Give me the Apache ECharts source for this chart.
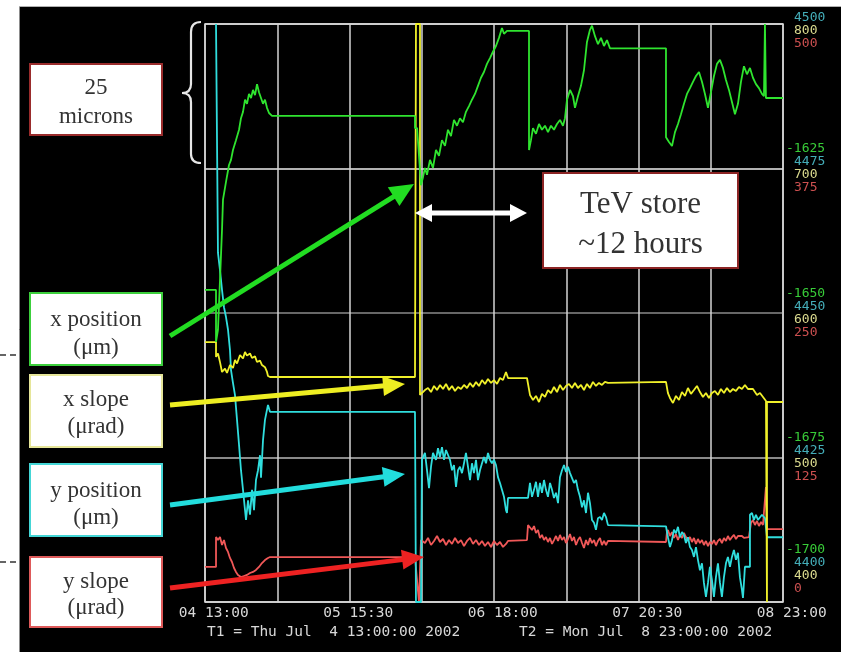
<!DOCTYPE html>
<html>
<head>
<meta charset="utf-8">
<title>Tevatron orbit – beam position and slope</title>
<script src="https://cdn.jsdelivr.net/npm/echarts@6/dist/echarts.min.js"></script>
<style>
  html, body { margin: 0; padding: 0; background: #fff; }
  #chart { width: 841px; height: 652px; }
</style>
</head>
<body>
<div id="chart"></div>
<script>
// ---- Time axis: hours since T1 (Thu Jul 4 13:00:00 2002) ----
const spanHours = 106;
const hoursPerDivision = 13.25;
const timeLabels = ['04 13:00', '05 15:30', '06 18:00', '07 20:30', '08 23:00'];
const startStamp = 'T1 = Thu Jul  4 13:00:00 2002';
const endStamp = 'T2 = Mon Jul  8 23:00:00 2002';

// ---- Right-hand scales, listed top to bottom ----
const xPosTicks = [1600, 1625, 1650, 1675, 1700];   // x position (um), grows downward
const yPosTicks = [4500, 4475, 4450, 4425, 4400];   // y position (um)
const xSlopeTicks = [800, 700, 600, 500, 400];      // x slope (urad)
const ySlopeTicks = [500, 375, 250, 125, 0];        // y slope (urad)

// ---- Traces: [hours since T1, value] ----
const xPosition = [
  [0,1646.0],[2.02,1646.0],[2.02,1655.0],[2.38,1652.9],[2.75,1644.3],[3.12,1635.6],[3.30,1630.4],
  [3.85,1627.3],[4.40,1624.4],[4.77,1623.5],[5.13,1621.8],[5.68,1620.1],[6.24,1618.3],[6.60,1616.3],
  [6.97,1615.2],[7.34,1613.1],[7.70,1613.8],[8.07,1612.1],[8.44,1612.8],[8.80,1611.4],[9.17,1612.3],
  [9.54,1610.4],[9.90,1611.8],[10.27,1612.8],[10.64,1613.8],[11.00,1613.1],[11.37,1614.5],[11.74,1615.4],
  [12.29,1615.9],[38.51,1615.9],[38.51,1618.0],[38.90,1618.0],
  [39.61,1627.9],[39.98,1626.5],[40.34,1624.9],[40.71,1626.1],[41.26,1623.5],[41.81,1624.9],[42.36,1621.8],
  [42.91,1622.8],[43.46,1620.1],[44.01,1621.1],[44.56,1618.3],[45.11,1619.4],[45.66,1616.6],[46.21,1617.6],
  [46.76,1616.3],[47.31,1617.0],[47.86,1615.2],[48.41,1614.2],[48.96,1613.1],[49.51,1612.1],[50.06,1610.7],
  [50.61,1609.3],[51.16,1608.3],[51.71,1606.9],[52.26,1605.9],[52.81,1604.8],[53.36,1603.8],[53.91,1602.4],
  [54.46,1600.7],[54.83,1601.7],[55.38,1601.2],[59.42,1601.2],
  [59.42,1621.8],[59.78,1620.1],[60.15,1618.0],[60.70,1619.0],[61.25,1617.3],[61.80,1618.3],[62.35,1617.6],
  [62.90,1618.7],[63.45,1617.6],[64.00,1618.3],[64.55,1617.3],[65.10,1616.6],[65.65,1617.6],[66.02,1616.3],
  [66.39,1613.1],[66.94,1611.4],[67.49,1612.5],[67.85,1614.5],[68.40,1612.5],[68.95,1610.7],[69.50,1608.0],
  [70.05,1603.1],[70.60,1601.0],[70.97,1600.3],[71.52,1602.1],[72.07,1603.5],[72.62,1602.4],[73.17,1603.8],
  [73.72,1602.8],[74.27,1604.2],[84.54,1604.2],
  [84.54,1619.6],[85.09,1620.4],[85.64,1621.1],[86.19,1618.7],[86.74,1617.3],[87.29,1615.6],[87.84,1613.8],
  [88.39,1612.1],[88.94,1611.1],[89.49,1610.0],[90.04,1609.0],[90.59,1608.3],[91.14,1610.0],[91.69,1612.1],
  [92.24,1614.5],[92.79,1611.8],[93.34,1609.0],[93.89,1606.9],[94.44,1606.2],[94.99,1607.6],[95.54,1609.7],
  [96.09,1611.4],[96.64,1613.5],[97.19,1615.6],[97.74,1613.8],[98.29,1610.0],[98.84,1607.3],[99.39,1608.7],
  [99.94,1607.6],[100.49,1609.3],[101.04,1610.4],[101.59,1611.1],[102.14,1612.1],[102.51,1612.5],
  [102.69,1600.0],[102.87,1612.8],[106,1612.8]
];

const xSlope = [
  [0,579.9],[2.02,579.9],[2.02,569.6],[2.38,572.0],[2.75,566.0],[3.12,559.2],[3.67,561.5],[4.03,558.5],
  [4.58,564.0],[5.13,562.0],[5.50,567.5],[5.87,565.0],[6.42,570.9],[6.97,568.5],[7.34,573.0],[7.70,570.5],
  [8.25,572.0],[8.62,568.9],[9.17,570.0],[9.54,566.1],[10.09,567.0],[10.45,564.0],[11.00,562.5],[11.37,559.2],
  [11.55,556.4],[11.92,555.7],[38.51,555.7],[38.69,800],[39.43,800],[39.43,543.3],
  [39.78,543.3],[40.34,546.7],[40.90,548.1],[41.45,545.3],[42.00,549.5],[42.55,546.7],[43.10,550.2],
  [43.65,547.4],[44.20,550.9],[44.75,546.7],[45.30,549.5],[45.85,546.0],[46.40,548.8],[46.95,547.4],
  [47.50,550.2],[48.05,548.1],[48.60,551.6],[49.15,548.8],[49.70,552.3],[50.25,549.5],[50.80,553.6],
  [51.35,550.9],[51.90,554.3],[52.45,551.6],[53.00,553.6],[53.55,550.9],[54.10,555.0],[54.65,553.6],
  [55.20,559.2],[55.57,555.0],[59.05,555.0],
  [59.60,543.3],[60.15,539.8],[60.70,542.6],[61.25,538.4],[61.80,544.0],[62.35,541.9],[62.90,546.7],
  [63.45,544.6],[64.00,548.8],[64.55,545.3],[65.10,550.2],[65.65,546.7],[66.20,549.5],[66.75,550.9],
  [67.30,548.1],[67.85,551.6],[68.40,548.1],[68.95,550.2],[69.50,546.7],[70.05,550.9],[70.60,548.1],
  [71.15,552.3],[71.70,549.5],[72.25,551.6],[72.80,550.2],[73.35,552.3],[73.90,551.6],[74.09,552.3],
  [84.54,552.3],
  [84.90,544.6],[85.27,541.2],[85.82,537.7],[86.37,542.6],[86.92,539.8],[87.47,545.3],[88.02,542.6],
  [88.57,548.1],[89.12,544.0],[89.67,546.7],[90.22,549.5],[90.77,545.3],[91.32,541.9],[91.87,544.6],
  [92.42,541.2],[92.97,544.6],[93.52,546.0],[94.07,543.3],[94.62,547.4],[95.17,544.6],[95.72,548.1],
  [96.27,545.3],[96.82,547.4],[97.37,546.0],[97.92,548.8],[98.47,547.4],[99.02,550.2],[99.57,547.4],
  [100.49,547.4],[101.23,543.3],[101.78,544.6],[102.33,541.9],[102.88,539.1],[103.06,400],[103.06,538.4],
  [106,538.4]
];

const yPosition = [
  [2.02,4500],[2.38,4460.4],[2.75,4457.4],[3.12,4454.0],[3.48,4451.0],[3.85,4449.3],[4.22,4447.1],
  [4.58,4443.6],[4.77,4440.1],[5.13,4437.9],[5.50,4435.8],[5.87,4431.5],[6.24,4427.2],[6.60,4422.8],
  [6.97,4419.4],[7.34,4415.9],[7.52,4414.2],[7.89,4417.6],[8.25,4415.1],[8.62,4419.4],[8.99,4415.9],
  [9.35,4421.1],[9.72,4422.8],[10.09,4425.4],[10.27,4421.5],[10.64,4428.0],[11.00,4431.5],[11.55,4434.1],
  [11.92,4432.9],[38.51,4432.9],[38.69,4400],[39.61,4400],
  [39.78,4424.6],[40.34,4425.8],[40.71,4422.8],[41.08,4419.7],[41.45,4423.4],[41.81,4425.8],[42.36,4424.6],
  [42.73,4426.6],[43.10,4425.1],[43.46,4426.8],[43.83,4424.6],[44.20,4426.3],[44.56,4426.6],[44.93,4424.6],
  [45.30,4422.8],[45.66,4423.7],[46.03,4419.9],[46.40,4422.8],[46.76,4423.4],[47.13,4422.3],[47.50,4424.0],
  [47.86,4425.8],[48.23,4423.4],[48.60,4421.1],[48.96,4424.0],[49.33,4422.3],[49.70,4424.6],[50.06,4421.1],
  [50.43,4422.8],[50.80,4424.0],[51.16,4425.1],[51.53,4424.0],[51.90,4425.8],[52.26,4424.6],[52.63,4424.0],
  [53.00,4424.6],[53.36,4423.7],[53.73,4421.6],[54.10,4420.6],[54.46,4419.4],[54.83,4418.2],[55.20,4415.9],
  [55.38,4415.4],[55.57,4418.0],[59.24,4418.0],
  [59.60,4420.6],[59.97,4418.2],[60.34,4419.4],[60.70,4420.8],[61.07,4418.2],[61.43,4420.6],[61.80,4418.9],
  [62.17,4421.1],[62.53,4419.4],[62.90,4418.2],[63.27,4420.6],[63.64,4419.4],[64.00,4418.0],[64.37,4418.9],
  [64.74,4417.1],[65.10,4421.6],[65.47,4422.8],[65.84,4423.7],[66.20,4422.5],[66.57,4423.4],[66.94,4422.3],
  [67.30,4422.0],[67.67,4420.6],[68.04,4421.1],[68.40,4419.4],[68.77,4418.2],[69.14,4416.4],[69.50,4417.6],
  [69.87,4415.4],[70.24,4418.9],[70.60,4417.1],[70.97,4414.2],[71.34,4413.7],[71.70,4412.5],[72.07,4414.5],
  [72.44,4414.7],[72.80,4414.2],[73.17,4415.4],[73.54,4414.7],[73.90,4413.3],[74.09,4413.1],[84.54,4413.1],
  [84.90,4411.2],[85.27,4409.5],[85.64,4410.7],[86.00,4412.5],[86.37,4411.9],[86.74,4413.0],[87.10,4411.2],
  [87.47,4412.1],[87.84,4411.6],[88.20,4410.2],[88.57,4411.2],[88.94,4409.5],[89.30,4409.0],[89.67,4407.8],
  [90.04,4409.5],[90.40,4407.3],[90.77,4405.5],[91.14,4406.7],[91.50,4403.3],[91.87,4400.9],[92.24,4403.3],
  [92.60,4406.1],[92.97,4403.8],[93.34,4400.9],[93.70,4404.3],[94.07,4406.7],[94.44,4403.3],[94.80,4400.9],
  [95.17,4404.3],[95.54,4406.7],[95.90,4407.8],[96.27,4406.1],[96.64,4407.8],[97.00,4409.0],[97.37,4407.3],
  [97.74,4408.5],[98.10,4404.3],[98.47,4402.1],[98.66,4400.7],[99.02,4406.1],[99.94,4406.1],[99.94,4415.1],
  [100.31,4415.4],[100.67,4414.2],[101.04,4415.1],[101.41,4414.2],[102.14,4415.1],[102.69,4414.5],
  [103.06,4411.2],[106,4411.2]
];

const ySlope = [
  [0,30.3],[2.02,30.3],[2.02,56.2],[2.38,53.6],[2.75,56.2],[3.12,49.3],[3.48,53.6],[3.85,46.7],[4.22,43.3],
  [4.58,38.1],[4.95,34.6],[5.32,29.4],[5.68,26.0],[6.05,23.4],[6.60,21.6],[7.15,22.5],[7.70,23.4],
  [8.25,25.1],[8.80,26.0],[9.35,27.7],[9.90,30.3],[10.45,33.7],[11.00,36.3],[11.55,38.1],[11.92,38.9],
  [38.51,38.9],[39.24,0],[39.61,53.6],
  [39.78,53.6],[40.34,51.0],[40.90,55.4],[41.45,49.3],[42.00,52.8],[42.55,57.1],[43.10,51.9],[43.65,54.5],
  [44.20,49.3],[44.75,53.6],[45.30,50.2],[45.85,55.4],[46.40,51.0],[46.95,53.6],[47.50,48.4],[48.05,52.8],
  [48.60,55.4],[49.15,50.2],[49.70,53.6],[50.25,49.3],[50.80,52.8],[51.35,48.4],[51.90,51.9],[52.45,47.6],
  [53.00,52.8],[53.55,49.3],[54.10,51.9],[54.65,47.6],[55.20,50.2],[55.57,52.8],[55.75,53.6],[59.05,53.6],
  [59.24,66.6],[59.60,64.9],[59.97,62.3],[60.34,65.7],[60.70,59.7],[61.07,62.3],[61.43,55.4],[61.80,58.0],
  [62.17,53.6],[62.53,56.2],[62.90,51.9],[63.27,55.4],[63.64,50.2],[64.00,53.6],[64.37,57.1],[64.74,52.8],
  [65.10,58.0],[65.47,53.6],[65.84,56.2],[66.20,51.0],[66.57,54.5],[66.94,58.8],[67.30,52.8],[67.67,56.2],
  [68.04,49.3],[68.40,53.6],[68.77,56.2],[69.14,51.0],[69.50,46.7],[69.87,53.6],[70.24,49.3],[70.60,55.4],
  [70.97,51.0],[71.34,53.6],[71.70,48.4],[72.07,52.8],[72.44,55.4],[72.80,49.3],[73.17,52.8],[73.54,49.3],
  [73.90,52.8],[74.09,51.9],[84.54,51.9],
  [84.72,60.5],[84.90,62.3],[85.27,57.1],[85.64,60.5],[86.00,55.4],[86.37,58.8],[86.74,53.6],[87.10,58.0],
  [87.47,55.4],[87.84,59.7],[88.20,56.2],[88.57,52.8],[88.94,56.2],[89.30,51.9],[89.67,55.4],[90.04,50.2],
  [90.40,54.5],[90.77,51.0],[91.14,53.6],[91.50,49.3],[91.87,52.8],[92.24,48.4],[92.60,51.9],[92.97,50.2],
  [93.34,53.6],[93.70,49.3],[94.07,52.8],[94.44,54.5],[94.80,51.0],[95.17,55.4],[95.54,52.8],[95.90,57.1],
  [96.27,53.6],[96.64,56.2],[97.00,58.0],[97.37,54.5],[97.74,57.1],[98.10,55.4],[98.47,57.1],[98.84,55.4],
  [99.75,56.2],[100.12,68.3],[100.49,70.9],[100.86,66.6],[101.23,70.1],[101.59,65.7],[101.96,69.2],
  [102.33,66.6],[102.69,64.9],[102.87,99.5],[103.06,63.1],[106,63.1]
];

// ---- Styling ----
const MONO = '"DejaVu Sans Mono", "Liberation Mono", monospace';
const SERIF = '"Liberation Serif", "DejaVu Serif", serif';
const GREEN = '#2fe42f', YELLOW = '#f0f02a', CYAN = '#30dede', RED = '#f05858';

// Each right-hand scale prints one row of a four-row label stack per tick;
// the stack at the lowest tick is lifted clear of the time labels.
const STACK_ROWS = 4;
function rightAxis(ticks, row, color, opts) {
  const lo = Math.min(...ticks), hi = Math.max(...ticks);
  const bottomValue = ticks[ticks.length - 1];
  const topValue = ticks[0];
  return Object.assign({
    type: 'value', position: 'right',
    min: lo, max: hi, interval: (hi - lo) / (ticks.length - 1),
    inverse: ticks[0] < ticks[ticks.length - 1],
    axisLine: { show: false }, axisTick: { show: false },
    splitLine: { show: false },
    axisLabel: {
      show: true, showMinLabel: true, showMaxLabel: true,
      color: color, fontFamily: MONO, fontSize: 13, lineHeight: 13,
      margin: opts.margin, align: 'left', verticalAlign: 'middle',
      formatter: function (v) {
        if (opts.hideTop && v === topValue) return '';
        const lift = v === bottomValue ? 5 : 0;
        return '\n'.repeat(row) + (opts.prefix || '') + v + '\n'.repeat(STACK_ROWS - 1 - row + lift);
      }
    }
  }, opts.extra || {});
}

const yAxes = [
  rightAxis(xPosTicks, 0, '#38cc38', {
    margin: 3, prefix: '-', hideTop: true,
    extra: {
      splitLine: {
        show: true,
        lineStyle: { color: ['#dcdcdc', '#ececec', '#8a8a8a', '#b8b8b8', '#dcdcdc'], width: 1.5 }
      }
    }
  }),
  rightAxis(yPosTicks, 1, '#44adb8', { margin: 11 }),
  rightAxis(xSlopeTicks, 2, '#dada8e', { margin: 11 }),
  rightAxis(ySlopeTicks, 3, '#cc5050', { margin: 11 })
];

// ---- Annotation helpers ----
function labelBox(x, y, w, h, border, text, fontSize, lineHeight, dy) {
  return [
    { type: 'rect', z: 100, shape: { x: x, y: y, width: w, height: h },
      style: { fill: '#ffffff', stroke: border, lineWidth: 2 } },
    { type: 'text', z: 101, x: x + w / 2, y: y + h / 2 + dy,
      style: { text: text, font: fontSize + 'px ' + SERIF, fill: '#333333',
               align: 'center', verticalAlign: 'middle',
               textAlign: 'center', textVerticalAlign: 'middle', lineHeight: lineHeight } }
  ];
}

function arrow(x0, y0, x1, y1, color, width, headLen, headW, both) {
  const dx = x1 - x0, dy = y1 - y0, len = Math.hypot(dx, dy);
  const ux = dx / len, uy = dy / len, nx = -uy, ny = ux;
  const head = (tx, ty, sx, sy) => ({
    type: 'polygon', z: 111,
    shape: { points: [
      [tx, ty],
      [tx - sx * headLen + nx * headW / 2, ty - sy * headLen + ny * headW / 2],
      [tx - sx * headLen - nx * headW / 2, ty - sy * headLen - ny * headW / 2]
    ] },
    style: { fill: color }
  });
  const sx0 = both ? x0 + ux * headLen * 0.8 : x0;
  const sy0 = both ? y0 + uy * headLen * 0.8 : y0;
  const items = [
    { type: 'line', z: 110,
      shape: { x1: sx0, y1: sy0, x2: x1 - ux * headLen * 0.8, y2: y1 - uy * headLen * 0.8 },
      style: { stroke: color, lineWidth: width } },
    head(x1, y1, ux, uy)
  ];
  if (both) items.push(head(x0, y0, -ux, -uy));
  return items;
}

function bez(x1, y1, c1x, c1y, c2x, c2y, x2, y2) {
  return { type: 'bezierCurve', z: 105,
    shape: { x1: x1, y1: y1, cpx1: c1x, cpy1: c1y, cpx2: c2x, cpy2: c2y, x2: x2, y2: y2 },
    style: { stroke: '#e6e6e6', lineWidth: 2.2, fill: null } };
}
function seg(x1, y1, x2, y2, stroke, w, dash) {
  return { type: 'line', z: 105, shape: { x1: x1, y1: y1, x2: x2, y2: y2 },
    style: { stroke: stroke, lineWidth: w, lineDash: dash || null } };
}

const annotations = [].concat(
  // page margin outside the scope frame
  [{ type: 'rect', z: 90, shape: { x: 0, y: 0, width: 841, height: 7 }, style: { fill: '#ffffff' } },
   { type: 'rect', z: 90, shape: { x: 0, y: 0, width: 19, height: 652 }, style: { fill: '#ffffff' } },
   seg(19.5, 7, 19.5, 652, '#8c8c8c', 1),
   seg(19, 6.5, 841, 6.5, '#b0b0b0', 1),
   seg(0, 355, 19, 355, '#333333', 1.5, [6, 4]),
   seg(0, 562, 19, 562, '#333333', 1.5, [6, 4])],
  // brace spanning one division of x position
  [bez(201, 22, 194, 22, 191, 25, 191, 32),
   seg(191, 32, 191, 84, '#e6e6e6', 2.2),
   bez(191, 84, 191, 90, 188, 93, 182, 93),
   bez(182, 93, 188, 93, 191, 96, 191, 102),
   seg(191, 102, 191, 154, '#e6e6e6', 2.2),
   bez(191, 154, 191, 160, 194, 163, 201, 163)],
  labelBox(30, 64, 132, 71, '#9a2c2c', '25\nmicrons', 23, 29, 3),
  labelBox(30, 293, 132, 72, '#3ccf3c', 'x position\n(\u03bcm)', 23, 28, 5),
  labelBox(30, 375, 132, 72, '#e6e69a', 'x slope\n(\u03bcrad)', 23, 27, 2),
  labelBox(30, 464, 132, 72, '#44d6d6', 'y position\n(\u03bcm)', 23, 27, 4),
  labelBox(30, 557, 132, 70, '#de5a5a', 'y slope\n(\u03bcrad)', 23, 26, 3),
  labelBox(543, 173, 195, 95, '#8c2424', 'TeV store\n~12 hours', 31, 40, 4),
  arrow(170, 336, 414, 184, '#22dd22', 5, 24, 22, false),
  arrow(415, 213, 527, 213, '#ffffff', 5, 17, 18, true),
  arrow(170, 405, 405, 384, '#eeee22', 5, 22, 20, false),
  arrow(170, 505, 405, 474, '#22dddd', 5, 22, 20, false),
  arrow(170, 588, 424, 557, '#ee2222', 5, 22, 20, false),
  [{ type: 'text', z: 100, x: 207, y: 632,
     style: { text: startStamp, font: '14.5px ' + MONO, fill: '#d8d8d8',
              align: 'left', verticalAlign: 'middle', textAlign: 'left', textVerticalAlign: 'middle' } },
   { type: 'text', z: 100, x: 519, y: 632,
     style: { text: endStamp, font: '14.5px ' + MONO, fill: '#d8d8d8',
              align: 'left', verticalAlign: 'middle', textAlign: 'left', textVerticalAlign: 'middle' } }]
);

function trace(name, data, axisIndex, color) {
  return {
    name: name, type: 'line', data: data, yAxisIndex: axisIndex,
    showSymbol: false, symbol: 'none', silent: true, animation: false,
    lineStyle: { color: color, width: 1.8 }
  };
}

const chart = echarts.init(document.getElementById('chart'), null, { renderer: 'canvas' });
chart.setOption({
  backgroundColor: '#000000',
  animation: false,
  grid: {
    left: 205, right: 58, top: 24, bottom: 50,
    show: true, borderColor: '#dcdcdc', borderWidth: 1.5, backgroundColor: 'transparent',
    containLabel: false, outerBoundsMode: 'none'
  },
  xAxis: {
    type: 'value', min: 0, max: spanHours, interval: hoursPerDivision,
    axisLine: { show: false }, axisTick: { show: false },
    splitLine: { show: true, lineStyle: { color: '#d4d4d4', width: 1.5 } },
    axisLabel: {
      color: '#d8d8d8', fontFamily: MONO, fontSize: 14.5, margin: 4,
      padding: [0, 0, 0, 17.5], showMinLabel: true, showMaxLabel: true,
      formatter: function (v) {
        const i = Math.round(v / hoursPerDivision);
        return i % 2 === 0 ? timeLabels[i / 2] : '';
      }
    }
  },
  yAxis: yAxes,
  series: [
    trace('y slope', ySlope, 3, RED),
    trace('y position', yPosition, 1, CYAN),
    trace('x slope', xSlope, 2, YELLOW),
    trace('x position', xPosition, 0, GREEN)
  ],
  graphic: { elements: annotations }
});
</script>
</body>
</html>
